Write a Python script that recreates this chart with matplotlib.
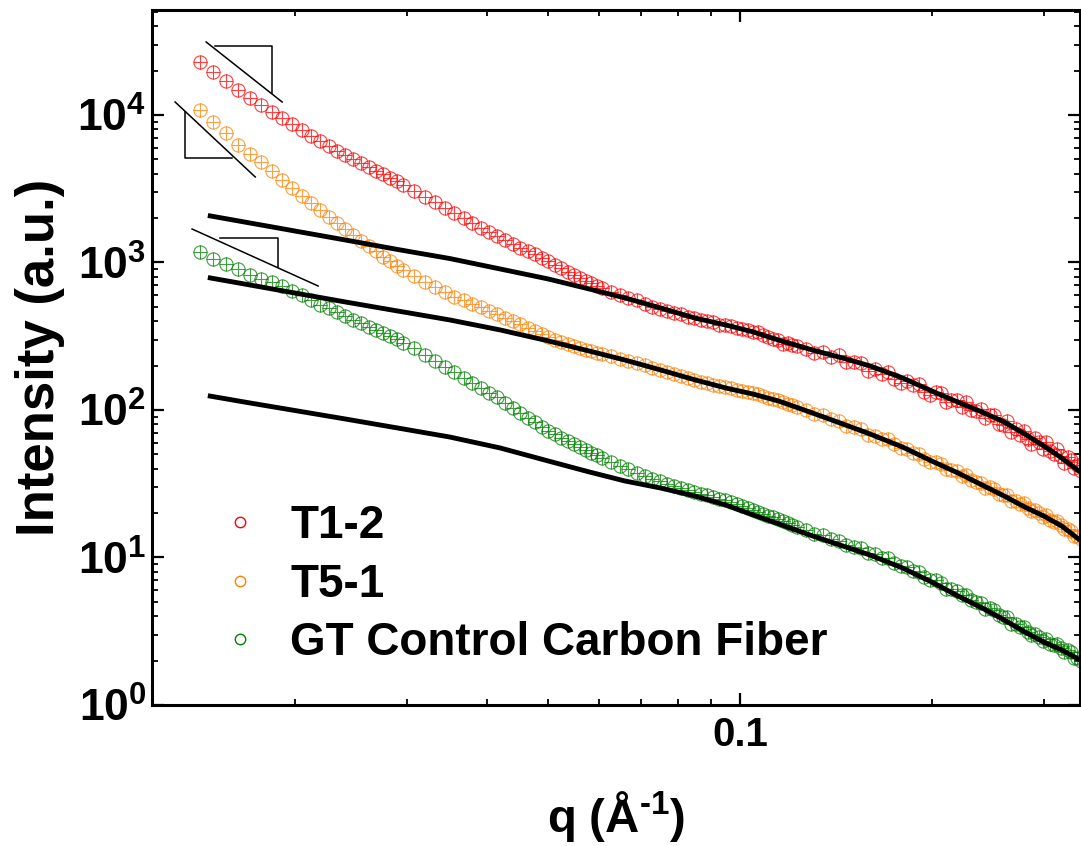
import math

import matplotlib
matplotlib.use("Agg")
import matplotlib.pyplot as plt
from matplotlib.lines import Line2D
from matplotlib.ticker import FuncFormatter, NullFormatter, LogLocator

plt.rcParams["font.family"] = ["Liberation Sans", "DejaVu Sans"]
plt.rcParams["font.weight"] = "bold"
plt.rcParams["axes.labelweight"] = "bold"
plt.rcParams["mathtext.fontset"] = "custom"
plt.rcParams["mathtext.rm"] = "Liberation Sans:bold"
plt.rcParams["mathtext.bf"] = "Liberation Sans:bold"
plt.rcParams["mathtext.it"] = "Liberation Sans:bold:italic"
plt.rcParams["mathtext.default"] = "rm"

# --- colours ---
RED = "#FF0000"
ORANGE = "#FF8000"
GREEN = "#008000"

# --- SAXS data: q (1/Angstrom), common grid for all samples ---
q_data = [
    0.0142, 0.0149, 0.0156, 0.0163, 0.0170, 0.0177, 0.0184, 0.0191, 0.0198, 0.0205,
    0.0212, 0.0219, 0.0226, 0.0233, 0.0240, 0.0247, 0.0254, 0.0261, 0.0268, 0.0275,
    0.0282, 0.0289, 0.0296,
    0.0308, 0.0320, 0.0332, 0.0344, 0.0356, 0.0368, 0.0380, 0.0392, 0.0404, 0.0416,
    0.0428, 0.0440, 0.0452, 0.0464, 0.0476, 0.0488, 0.0500, 0.0512, 0.0524, 0.0536,
    0.0548, 0.0560, 0.0572, 0.0584, 0.0596, 0.0608,
    0.0628, 0.0648, 0.0668, 0.0688, 0.0708, 0.0728, 0.0748, 0.0768, 0.0788, 0.0808,
    0.0828, 0.0848, 0.0868, 0.0888, 0.0908, 0.0928, 0.0948, 0.0968, 0.0988, 0.1008,
    0.1028, 0.1048, 0.1068, 0.1088, 0.1108, 0.1128, 0.1148, 0.1168, 0.1188, 0.1208,
    0.1228,
    0.1268, 0.1308, 0.1348, 0.1388, 0.1428, 0.1468, 0.1508, 0.1548, 0.1588, 0.1628,
    0.1668, 0.1708, 0.1748, 0.1788, 0.1828, 0.1868, 0.1908, 0.1948, 0.1988, 0.2028,
    0.2068, 0.2108, 0.2148, 0.2188, 0.2228, 0.2268, 0.2308, 0.2348, 0.2388, 0.2428,
    0.2468, 0.2508, 0.2548, 0.2588, 0.2628, 0.2668, 0.2708, 0.2748, 0.2788, 0.2828,
    0.2868, 0.2908, 0.2948, 0.2988, 0.3028, 0.3068, 0.3108, 0.3148, 0.3188, 0.3228,
    0.3268, 0.3308, 0.3348, 0.3388, 0.3428,
]

int_t12 = [
    22870, 19560, 17000, 14780, 13040, 11690, 10480, 9543, 8690, 7913,
    7204, 6664, 6163, 5700, 5356, 5031, 4727, 4441, 4172, 3981,
    3741, 3569, 3353,
    3053, 2780, 2571, 2342, 2166, 2003, 1853, 1714, 1610, 1512,
    1421, 1335, 1254, 1197, 1142, 1073, 1024, 962, 918, 862,
    823, 785, 749, 726, 693, 672,
    631, 602, 575, 560, 523, 499, 484, 469, 455, 450,
    427, 420, 408, 401, 395, 375, 377, 371, 360, 354,
    349, 338, 336, 322, 313, 303, 298, 282, 285, 276,
    272,
    259, 244, 247, 229, 236, 212, 212, 208, 184, 190,
    175, 181, 162, 152, 157, 148, 150, 132, 126, 132,
    130, 113, 117, 117, 105, 113, 100, 98.4, 101.6, 88.3,
    92.5, 92.5, 80.4, 79.1, 84.2, 70.9, 74.3, 67.7, 72.0, 63.6,
    58.8, 64.6, 60.7, 54.4, 60.7, 52.7, 50.3, 54.4, 48.8, 43.7,
    48.0, 45.8, 40.4, 42.4, 38.6,
]

int_t51 = [
    10810, 8965, 7551, 6261, 5440, 4801, 4172, 3625, 3200, 2824,
    2532, 2269, 2034, 1853, 1687, 1536, 1399, 1294, 1197, 1090,
    1024, 947, 890,
    810, 738, 682, 631, 584, 557, 523, 499, 469, 448,
    420, 401, 383, 360, 343, 328, 313, 298, 289, 280,
    272, 263, 255, 251, 244, 240,
    232, 222, 215, 208, 202, 193, 187, 181, 175, 170,
    165, 160, 155, 152, 148, 145.5, 143, 141, 137, 134.5,
    132, 130, 128, 124, 121, 119, 117, 113, 110, 108,
    105,
    100, 94.0, 92.5, 86.9, 84.2, 77.9, 76.7, 74.3, 67.7, 66.6,
    63.6, 63.6, 58.8, 55.3, 54.4, 51.1, 50.3, 46.5, 44.4, 44.4,
    43.1, 39.8, 39.2, 38.6, 35.7, 36.3, 33.5, 32.5, 32.0, 29.6,
    30.1, 29.1, 26.9, 26.5, 26.5, 24.2, 24.2, 23.1, 23.4, 21.7,
    20.7, 21.0, 20.0, 18.8, 19.4, 18.0, 17.4, 17.7, 16.6, 15.6,
    15.6, 15.1, 14.0, 14.0, 13.4,
]

int_gt = [
    1178, 1056, 977, 904, 823, 773, 738, 693, 641, 602,
    557, 515, 492, 462, 434, 408, 389, 365, 349, 333,
    318, 303, 285,
    263, 236, 215, 196, 181, 165, 152, 141, 130, 122.5,
    111.6, 103.2, 95.4, 88.3, 82.9, 76.7, 72.0, 68.8, 64.6, 61.6,
    58.8, 56.1, 53.6, 51.1, 49.5, 47.3,
    44.4, 41.7, 39.8, 37.4, 35.7, 34.1, 33.0, 31.5, 30.5, 29.6,
    28.7, 27.8, 26.9, 26.5, 25.7, 24.9, 24.5, 23.8, 23.1, 22.4,
    21.7, 21.0, 20.3, 19.7, 19.1, 18.8, 18.2, 17.7, 17.1, 16.6,
    16.1,
    15.36, 14.43, 14.20, 13.35, 12.94, 12.15, 11.78, 11.60, 10.73, 10.56,
    9.92, 9.92, 9.18, 8.76, 8.62, 8.10, 7.97, 7.38, 7.04, 7.04,
    6.72, 6.11, 6.11, 5.93, 5.57, 5.57, 5.15, 4.99, 4.92, 4.48,
    4.55, 4.41, 4.08, 3.95, 3.95, 3.54, 3.54, 3.38, 3.38, 3.13,
    2.98, 3.03, 2.89, 2.72, 2.80, 2.59, 2.55, 2.59, 2.43, 2.29,
    2.36, 2.29, 2.08, 2.08, 1.99,
]

# --- model fits ---
q_fit = [0.0146, 0.017, 0.020, 0.024, 0.029, 0.035, 0.042, 0.050, 0.058, 0.066,
         0.075, 0.085, 0.095, 0.105, 0.115, 0.130, 0.145, 0.160, 0.180, 0.200,
         0.220, 0.240, 0.260, 0.280, 0.300, 0.320, 0.342]
fit_t12 = [2083, 1853, 1635, 1421, 1225, 1064, 904, 773, 661, 575,
           492, 420, 377, 338, 298, 255, 225, 199, 165, 134.5,
           113, 96.9, 82.9, 68.8, 57.0, 47.3, 38.0]
fit_t51 = [791, 704, 621, 540, 469, 408, 349, 294, 251, 218,
           187, 160, 141, 128, 115, 95.4, 80.4, 68.8, 56.1, 45.1,
           37.4, 31.0, 26.1, 22.0, 19.1, 16.35, 13.1]
fit_gt = [125, 111.6, 99.2, 86.9, 75.5, 65.6, 55.3, 45.1, 38.0, 33.0,
          29.6, 26.1, 22.7, 19.4, 16.9, 14.0, 11.97, 10.4, 8.49, 6.82,
          5.48, 4.55, 3.77, 3.13, 2.67, 2.36, 2.02]

# --- low-q power-law guides: (q, I) pairs for the slope line and the triangle legs ---
guide_slopes = [
    [(0.01451, 31260), (0.01910, 12250)],
    [(0.01297, 12250), (0.01733, 3800)],
    [(0.01379, 1687), (0.02175, 693)],
]
guide_legs = [
    [(0.01499, 29370), (0.01842, 29370), (0.01842, 14100)],
    [(0.01345, 10480), (0.01345, 5110), (0.01594, 5110)],
    [(0.01527, 1466), (0.01883, 1466), (0.01883, 932)],
]

labels = ["T1-2", "T5-1", "GT Control Carbon Fiber"]
colors = [RED, ORANGE, GREEN]


def draw():
    fig = plt.figure(figsize=(10.81, 8.46), dpi=100)
    ax = fig.add_axes([152 / 1081, 141 / 846, 928 / 1081, 695 / 846])

    series = [int_t12, int_t51, int_gt]
    fits = [fit_t12, fit_t51, fit_gt]

    # open circles with a cross through each point
    for inten, c in zip(series, colors):
        ax.plot(q_data, inten, ls="none", marker="o", mfc="none", mec=c,
                ms=9.5, mew=0.8, alpha=0.75, zorder=2)
        ax.plot(q_data, inten, ls="none", marker="+", color=c,
                ms=9.5, mew=0.8, alpha=0.75, zorder=2)

    for fit in fits:
        ax.plot(q_fit, fit, color="black", lw=3.5, solid_capstyle="butt", zorder=4)

    for seg in guide_slopes + guide_legs:
        xs = [p[0] for p in seg]
        ys = [p[1] for p in seg]
        ax.plot(xs, ys, color="black", lw=1.1, zorder=5)

    ax.set_xscale("log")
    ax.set_yscale("log")
    ax.set_xlim(0.01193, 0.3419)
    ax.set_ylim(1, 51500)

    ax.xaxis.set_major_locator(LogLocator(base=10))
    ax.xaxis.set_major_formatter(FuncFormatter(lambda v, p: f"{v:g}"))
    ax.xaxis.set_minor_formatter(NullFormatter())
    ax.yaxis.set_major_formatter(
        FuncFormatter(lambda v, p: r"$10^{%d}$" % round(math.log10(v))))
    ax.yaxis.set_minor_formatter(NullFormatter())

    ax.tick_params(which="both", direction="in", top=True, right=True)
    ax.tick_params(which="major", length=8.5, width=1.6)
    ax.tick_params(which="minor", length=4, width=1.3)
    ax.tick_params(axis="x", pad=8, labelsize=29)
    ax.tick_params(axis="y", pad=4, labelsize=32)
    for sp in ax.spines.values():
        sp.set_linewidth(2.2)

    ax.set_xlabel(r"q (Å$^{\text{-}1}$)", fontsize=34, labelpad=25)
    ax.set_ylabel("Intensity (a.u.)", fontsize=38, labelpad=9)

    handles = [Line2D([], [], ls="none", marker="o", mfc="none", mec=c, ms=7.5, mew=1.0)
               for c in colors]
    ax.legend(handles, labels, loc="lower left", bbox_to_anchor=(0.07, 0.057),
              frameon=False, fontsize=33, handlelength=1.0, handletextpad=0.6,
              labelspacing=0.32, borderpad=0, borderaxespad=0)

    fig.savefig("out.png", dpi=100)


if __name__ == "__main__":
    draw()
